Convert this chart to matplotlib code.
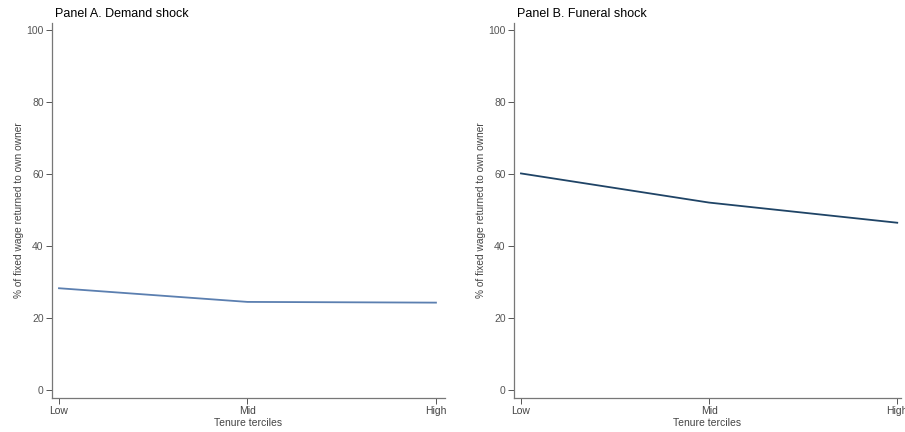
import matplotlib
matplotlib.use("Agg")
import matplotlib.pyplot as plt

plt.rcParams['font.family'] = ['Liberation Sans', 'DejaVu Sans']

# data
terciles = ['Low', 'Mid', 'High']
demand_share = [28.3, 24.5, 24.3]
funeral_share = [60.2, 52.1, 46.5]

fig = plt.figure(figsize=(9.05, 4.32), dpi=100)
W, H = 905, 432

def make_panel(x0, x1, xmax, title, values, color):
    ax = fig.add_axes([x0 / W, 1 - 398 / H, (x1 - x0) / W, (398 - 23) / H])
    ax.plot(range(len(values)), values, color=color, lw=1.3)
    ax.set_xlim(-0.037, xmax)
    ax.set_ylim(-2.2, 102)
    ax.set_xticks(range(len(terciles)))
    ax.set_xticklabels(terciles)
    ax.set_yticks([0, 20, 40, 60, 80, 100])
    for s in ['top', 'right']:
        ax.spines[s].set_visible(False)
    for s in ['left', 'bottom']:
        ax.spines[s].set_color('#777777')
        ax.spines[s].set_linewidth(0.9)
    ax.tick_params(colors='#555555', labelsize=7.5, length=4, width=0.7, pad=2)
    ax.tick_params(axis='x', labelcolor='#444444')
    ax.set_xlabel('Tenure terciles', fontsize=7.5, color='#444444', labelpad=1)
    ax.set_ylabel('% of fixed wage returned to own owner', fontsize=7.3, color='#444444', labelpad=2)
    ax.set_title(title, fontsize=9, loc='left', x=0.008, pad=4)
    return ax

make_panel(52, 445, 2.048, 'Panel A. Demand shock', demand_share, '#5b7fb0')
make_panel(514, 901, 2.02, 'Panel B. Funeral shock', funeral_share, '#1f4466')

fig.savefig('out.png', dpi=100)
